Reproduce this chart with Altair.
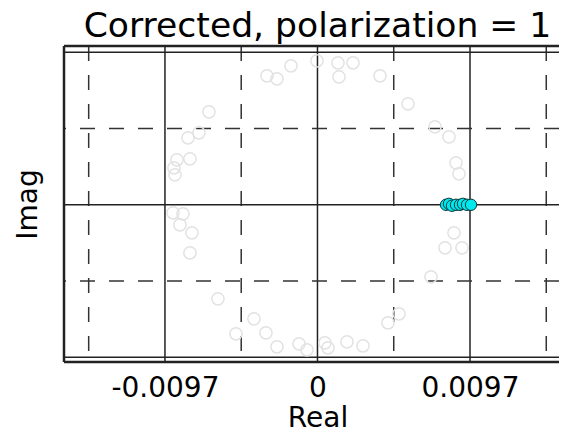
import altair as alt
import pandas as pd

# faint (uncorrected) points, real / imag
ring_re = [-0.003212, -0.002576, -0.001686, -0.000032, 0.001304, 0.002258, 0.001368, 0.003975,
           0.005756, 0.007474, 0.008364, 0.008810, 0.009000,
           0.008682, 0.008110, 0.009191, 0.007219, 0.005184, 0.004484,
           0.002894, 0.001876, 0.000668, 0.000477, -0.000668, -0.001177, -0.002576, -0.003276,
           -0.004039, -0.005184, -0.006329,
           -0.008110, -0.007983, -0.008746, -0.008555, -0.009191,
           -0.009064, -0.009128, -0.008937, -0.008110, -0.008237, -0.007537, -0.006901]
ring_im = [0.008205, 0.008014, 0.008841, 0.009159, 0.009032, 0.009032, 0.008142, 0.008205,
           0.006424, 0.004961, 0.004325, 0.002671, 0.001972,
           -0.001781, -0.002735, -0.002735, -0.004580, -0.006933, -0.007506,
           -0.008969, -0.008714, -0.009096, -0.008778, -0.009223, -0.008841, -0.009032, -0.008142,
           -0.007251, -0.008205, -0.005979,
           -0.003053, -0.001781, -0.001272, -0.000572, -0.000509,
           0.001908, 0.002353, 0.002862, 0.002926, 0.004262, 0.004580, 0.005915]

# corrected points
corr_re = [0.008174, 0.008364, 0.008555, 0.008810, 0.009064, 0.009255, 0.009509, 0.009764]
corr_im = [0.0, 0.00006, -0.00006, 0.0, 0.0, 0.00006, 0.0, 0.0]

x_major = [-0.0097, 0.0, 0.0097]
x_minor = [-0.01455, -0.00485, 0.00485, 0.01455]
y_major = [-0.0097, 0.0, 0.0097]
y_minor = [-0.00485, 0.00485]
tick_labels = ["-0.0097", "0", "0.0097"]

x_domain = [-0.01612, 0.01536]
y_domain = [-0.0100, 0.0101]

W, H = 495, 316
FONT = "DejaVu Sans"

ring = pd.DataFrame({"re": ring_re, "im": ring_im})
corr = pd.DataFrame({"re": corr_re, "im": corr_im})

label_expr = " : ".join(
    f"abs(datum.value - ({v})) < 1e-9 ? '{t}'" for v, t in zip(x_major, tick_labels)
) + " : ''"

xscale = alt.Scale(domain=x_domain, nice=False, zero=False)
yscale = alt.Scale(domain=y_domain, nice=False, zero=False)

xaxis = alt.Axis(values=x_major, labelExpr=label_expr, grid=False, ticks=False, tickSize=0,
                 domain=False, labelFontSize=28, labelFont=FONT, labelColor="black",
                 labelPadding=12, labelFlush=False,
                 title="Real", titleFontSize=28, titleFont=FONT, titleFontWeight="normal",
                 titleColor="black", titleBaseline="alphabetic", titleY=64, titleX=253.5)
yaxis = alt.Axis(labels=False, ticks=False, tickSize=0, grid=False, domain=False,
                 title="Imag", titleFontSize=28, titleFont=FONT, titleFontWeight="normal",
                 titleColor="black", titlePadding=22)

base_x = alt.X("re:Q", scale=xscale, axis=xaxis)
base_y = alt.Y("im:Q", scale=yscale, axis=yaxis)

vmin = alt.Chart(pd.DataFrame({"v": x_minor})).mark_rule(
    color="#333", strokeWidth=1.5, strokeDash=[15, 14]).encode(
    x=alt.X("v:Q", scale=xscale, axis=xaxis))
vmaj = alt.Chart(pd.DataFrame({"v": x_major})).mark_rule(
    color="#222", strokeWidth=1.5).encode(x=alt.X("v:Q", scale=xscale, axis=xaxis))
hmin = alt.Chart(pd.DataFrame({"v": y_minor})).mark_rule(
    color="#333", strokeWidth=1.5, strokeDash=[15, 14]).encode(
    y=alt.Y("v:Q", scale=yscale, axis=yaxis))
hmaj = alt.Chart(pd.DataFrame({"v": y_major})).mark_rule(
    color="#222", strokeWidth=1.5).encode(y=alt.Y("v:Q", scale=yscale, axis=yaxis))

frame_df = pd.DataFrame({"k": [0]})
top = alt.Chart(frame_df).mark_rule(color="#222", strokeWidth=2.5).encode(
    x=alt.value(0), x2=alt.value(W + 5), y=alt.value(0))
bottom = alt.Chart(frame_df).mark_rule(color="#222", strokeWidth=2.5).encode(
    x=alt.value(0), x2=alt.value(W + 5), y=alt.value(H))
left = alt.Chart(frame_df).mark_rule(color="#222", strokeWidth=2.5).encode(
    x=alt.value(0), y=alt.value(0), y2=alt.value(H))

ring_pts = alt.Chart(ring).mark_point(
    shape="circle", filled=False, size=150, color="#e2e2e2", strokeWidth=1.5, opacity=1).encode(
    x=base_x, y=base_y)
corr_pts = alt.Chart(corr).mark_point(
    shape="circle", filled=True, size=130, fill="#00e8ee", stroke="#0b3b3b",
    strokeWidth=1, opacity=1).encode(x=base_x, y=base_y)

chart = alt.layer(vmin, vmaj, hmin, hmaj, ring_pts, corr_pts, top, bottom, left).properties(
    width=W, height=H,
    title=alt.TitleParams("Corrected, polarization = 1", fontSize=34.6, font=FONT,
                          fontWeight="normal", color="black", anchor="middle", dx=6, offset=0),
    autosize=alt.AutoSizeParams(type="none"),
    padding={"left": 56, "top": 38, "right": 0, "bottom": 67},
).configure_view(stroke=None).configure(background="white")

chart.save("out.html", embed_options={"renderer": "svg", "actions": False})
